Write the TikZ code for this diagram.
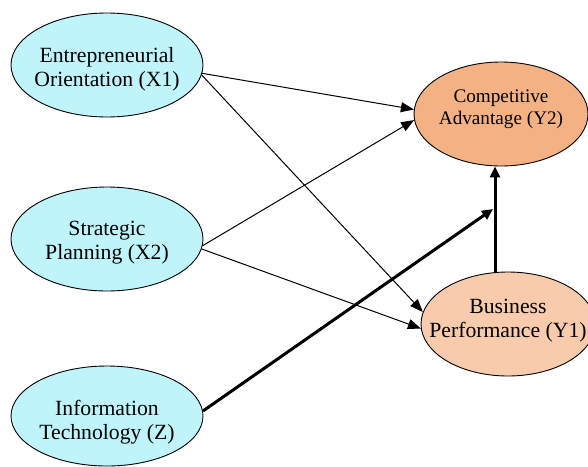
\documentclass[tikz,border=0pt]{standalone}
\usepackage{fontspec}
\setmainfont{Liberation Serif}
\newfontfamily\tnr{Liberation Serif}
\usetikzlibrary{shapes.geometric,arrows.meta}
\definecolor{lcyan}{RGB}{190,244,250}
\definecolor{dorange}{RGB}{244,177,131}
\definecolor{lorange}{RGB}{248,203,173}
\begin{document}
\begin{tikzpicture}[x=1pt,y=-1pt,
  var/.style={ellipse,draw=black,line width=0.9pt,inner sep=0pt},
  lbl/.style={align=center,inner sep=0pt,font=\tnr\fontsize{21.7}{24}\selectfont},
  thinarrow/.style={line width=1pt,-{Triangle[length=13pt,width=10pt]}},
  thickarrow/.style={line width=3pt,-{Triangle[length=11pt,width=10pt]}}]
\useasboundingbox (0,0) rectangle (588,466);
\node[var,fill=lcyan,minimum width=192pt,minimum height=104pt] (X1) at (107,65) {};
\node[lbl] (tX1) at ([yshift=-4pt]X1.center) {Entrepreneurial\\Orientation (X1)};
\node[var,fill=lcyan,minimum width=192pt,minimum height=104pt] (X2) at (107,239) {};
\node[lbl] (tX2) at ([yshift=-3.5pt]X2.center) {Strategic\\Planning (X2)};
\node[var,fill=lcyan,minimum width=192pt,minimum height=100pt] (Z) at (107,416) {};
\node[lbl] (tZ) at ([yshift=-6pt]Z.center) {Information\\Technology (Z)};
\node[var,fill=dorange,minimum width=174pt,minimum height=104pt] (Y2) at (501,114) {};
\node[lbl,font=\tnr\fontsize{19.2}{22}\selectfont] (tY2) at ([yshift=4.5pt]Y2.center) {Competitive\\Advantage (Y2)};
\node[var,fill=lorange,minimum width=174pt,minimum height=104pt] (Y1) at (508,324) {};
\node[lbl] (tY1) at ([yshift=3.5pt]Y1.center) {Business\\Performance (Y1)};
\coordinate (m) at (495,0);
\coordinate (zt) at (493,209);
\draw[thinarrow] (X1.-5) -- (Y2.177);
\draw[thinarrow] (X1.-6) -- (Y1.172);
\draw[thinarrow] (X2.-4) -- (Y2.184);
\draw[thinarrow] (X2.-6) -- (Y1.183);
\draw[thickarrow] (Y1.north -| m) -- (Y2.south -| m);
\draw[thickarrow] (Z.3) -- (zt);
\end{tikzpicture}
\end{document}
